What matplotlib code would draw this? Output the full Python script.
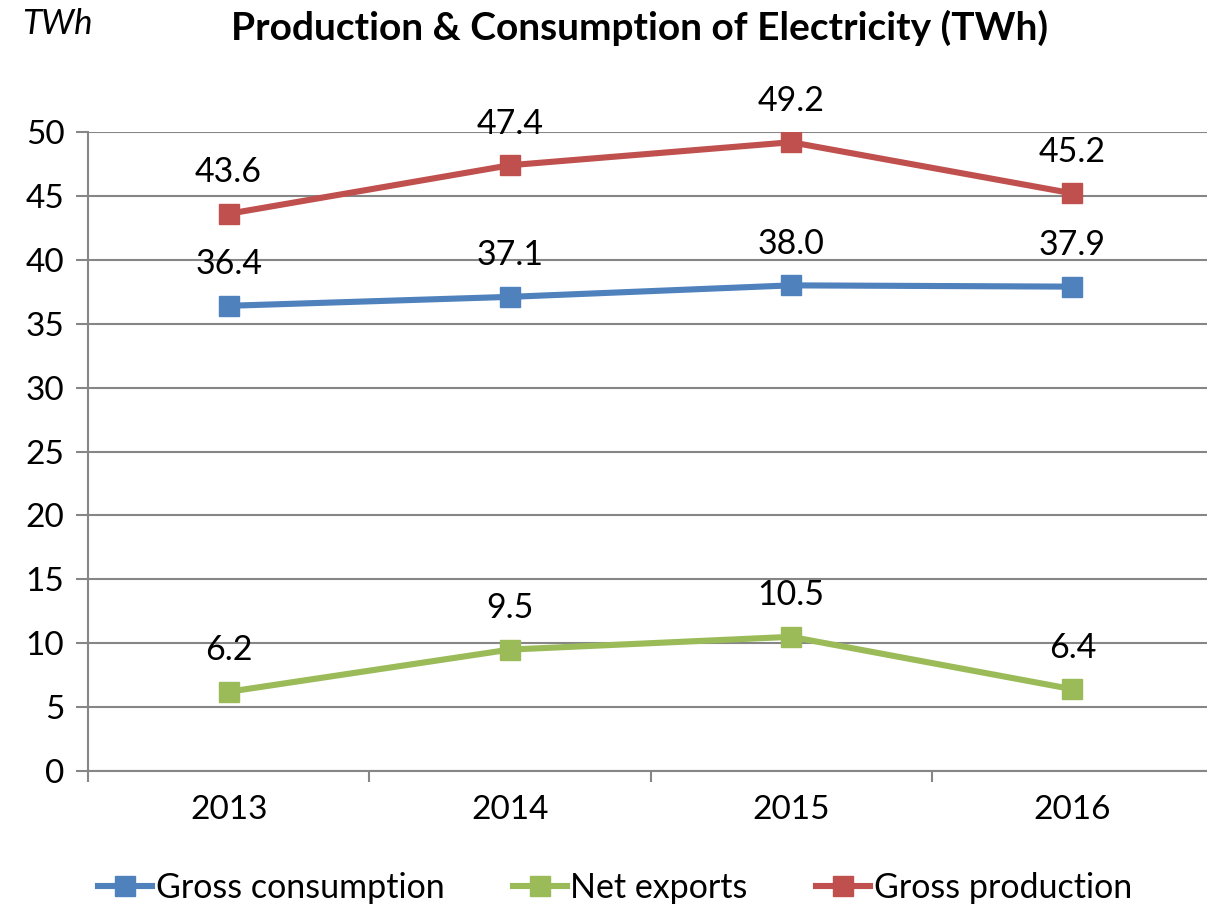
import matplotlib
matplotlib.use('Agg')
import matplotlib.pyplot as plt

years = ['2013', '2014', '2015', '2016']
gross_consumption = [36.4, 37.1, 38.0, 37.9]
net_exports = [6.2, 9.5, 10.5, 6.4]
gross_production = [43.6, 47.4, 49.2, 45.2]

plt.rcParams['font.family'] = ['Lato', 'DejaVu Sans']

fig = plt.figure(figsize=(12.07, 9.10), dpi=100)
ax = fig.add_axes([88 / 1207, 1 - 771 / 910, 1125 / 1207, 639 / 910])

x = range(len(years))
series = [
    ('Gross consumption', gross_consumption, '#4F81BD'),
    ('Net exports', net_exports, '#9BBB59'),
    ('Gross production', gross_production, '#C0504D'),
]
for name, vals, col in series:
    ax.plot(x, vals, color=col, lw=4.4, marker='s', markersize=15, label=name)
    for xi, v in zip(x, vals):
        ax.annotate('%.1f' % v, (xi, v), xytext=(0, 30), textcoords='offset points',
                    ha='center', va='center', fontsize=24.5)

ax.set_xlim(-0.5, 3.5)
ax.set_ylim(0, 50)
ax.set_yticks(range(0, 51, 5))
ax.set_xticks([-0.5, 0.5, 1.5, 2.5, 3.5])
ax.set_xticklabels([])
ax.set_xticks(list(x), minor=True)
ax.set_xticklabels(years, minor=True)
ax.tick_params(axis='x', which='minor', length=0, pad=17, labelsize=24)
ax.tick_params(axis='x', which='major', length=8, width=1.5, color='#868686')
ax.tick_params(axis='y', length=9, width=1.5, color='#868686', labelsize=24, pad=8)
ax.yaxis.grid(True, color='#868686', lw=1.5)
ax.set_axisbelow(True)
for s in ['top', 'right']:
    ax.spines[s].set_visible(False)
for s in ['left', 'bottom']:
    ax.spines[s].set_color('#868686')
    ax.spines[s].set_linewidth(1.5)

fig.text(640 / 1207, 1 - 28 / 910, 'Production & Consumption of Electricity (TWh)',
         ha='center', va='center', fontsize=28, fontweight='bold')
fig.text(22 / 1207, 1 - 24 / 910, 'TWh', ha='left', va='center', fontsize=25, style='italic')

fig.legend(loc='center', bbox_to_anchor=(615 / 1207, 1 - 888 / 910), ncol=3, frameon=False,
           fontsize=24.5, handlelength=1.6, handletextpad=0.1, columnspacing=2.0)

fig.savefig('out.png', dpi=100)
